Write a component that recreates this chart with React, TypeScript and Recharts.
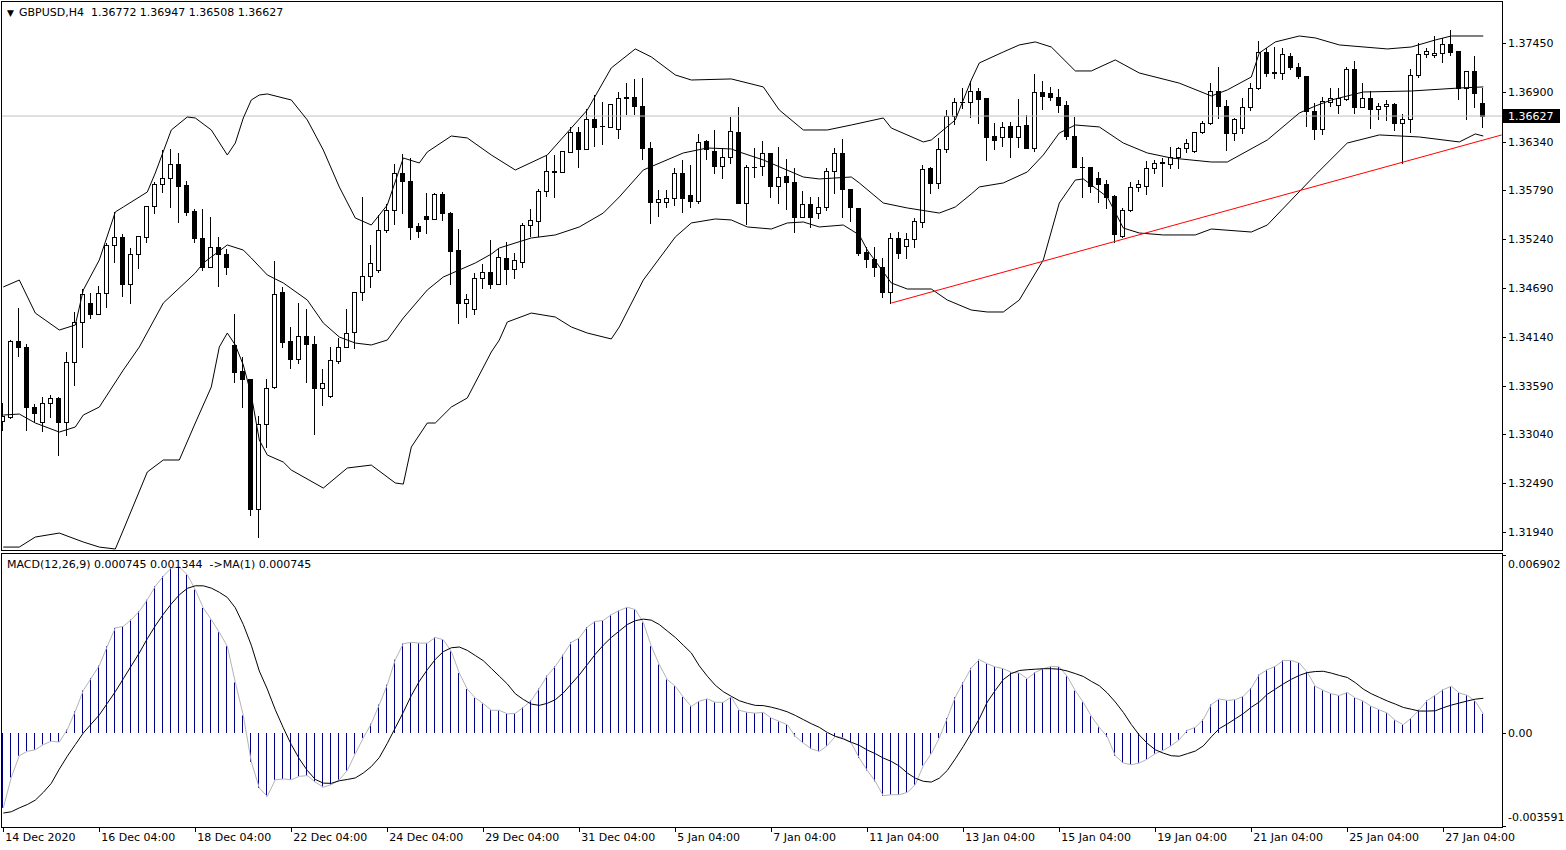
import React from "react";
import { ComposedChart, Bar, Line, XAxis, YAxis, ReferenceLine } from "recharts";

const FONT = "DejaVu Sans";

// time axis: a label every 12 H4 bars
const timeTickIdx = [0, 12, 24, 36, 48, 60, 72, 84, 96, 108, 120, 132, 144, 156, 168, 180];
const timeLabels = [
  "14 Dec 2020", "16 Dec 04:00", "18 Dec 04:00", "22 Dec 04:00", "24 Dec 04:00", "29 Dec 04:00",
  "31 Dec 04:00", "5 Jan 04:00", "7 Jan 04:00", "11 Jan 04:00", "13 Jan 04:00", "15 Jan 04:00",
  "19 Jan 04:00", "21 Jan 04:00", "25 Jan 04:00", "27 Jan 04:00",
];

const priceTicks = [1.3194, 1.3249, 1.3304, 1.3359, 1.3414, 1.3469, 1.3524, 1.3579, 1.3634, 1.369, 1.3745];
const macdTicks = [-0.003591, 0, 0.006902];
const macdTickText = ["-0.003591", "0.00", "0.006902"];

const opens = [
  1.3319, 1.33235, 1.34092, 1.34024, 1.33348, 1.33179, 1.33393, 1.3345, 1.33179, 1.33855,
  1.34306, 1.3452, 1.34396, 1.34633, 1.35174, 1.35264, 1.34734, 1.35072, 1.35264, 1.35613,
  1.35861, 1.35929, 1.36087, 1.3585, 1.35557, 1.35253, 1.34926, 1.35151, 1.35072, 1.34047,
  1.33754, 1.33664, 1.32199, 1.33157, 1.33574, 1.34644, 1.34092, 1.33889, 1.34148, 1.34058,
  1.33562, 1.33472, 1.33867, 1.34024, 1.34193, 1.34644, 1.34824, 1.34892, 1.35343, 1.35568,
  1.35985, 1.35895, 1.35388, 1.35501, 1.35467, 1.35749, 1.35534, 1.35117, 1.3452, 1.34453,
  1.34802, 1.3487, 1.34734, 1.35027, 1.34903, 1.34982, 1.35399, 1.35444, 1.35782, 1.36008,
  1.35997, 1.36222, 1.36447, 1.36256, 1.36594, 1.36515, 1.36504, 1.36481, 1.36831, 1.36842,
  1.3674, 1.36267, 1.35658, 1.35658, 1.35704, 1.35985, 1.35737, 1.3567, 1.36346, 1.36233,
  1.36064, 1.36166, 1.36447, 1.35647, 1.36053, 1.36064, 1.36211, 1.35839, 1.35951, 1.35884,
  1.35489, 1.35636, 1.35534, 1.35602, 1.36008, 1.36211, 1.35805, 1.35591, 1.35095, 1.35016,
  1.34926, 1.34644, 1.35253, 1.35163, 1.35241, 1.35433, 1.36042, 1.35873, 1.36256, 1.36628,
  1.36785, 1.36785, 1.36909, 1.36831, 1.36402, 1.36391, 1.36515, 1.36391, 1.36526, 1.36267,
  1.36898, 1.36887, 1.36842, 1.36752, 1.36402, 1.36053, 1.36053, 1.35929, 1.35861, 1.35726,
  1.35275, 1.35568, 1.35828, 1.35839, 1.36042, 1.36098, 1.36087, 1.36166, 1.36267, 1.36233,
  1.36447, 1.36549, 1.36909, 1.3674, 1.36436, 1.36492, 1.36729, 1.36943, 1.37349, 1.37124,
  1.37112, 1.37304, 1.3718, 1.37078, 1.36684, 1.36481, 1.36785, 1.36752, 1.36819, 1.37157,
  1.36729, 1.36831, 1.36707, 1.3674, 1.36763, 1.36549, 1.36594, 1.3709, 1.37326, 1.37315,
  1.37338, 1.37439, 1.3736, 1.36943, 1.37135, 1.36772,
];
const highs = [
  1.33393, 1.34103, 1.34464, 1.34058, 1.33382, 1.33461, 1.33483, 1.33461, 1.33968, 1.34419,
  1.34678, 1.34633, 1.34712, 1.35196, 1.35546, 1.35298, 1.3514, 1.35275, 1.35613, 1.35884,
  1.36244, 1.36256, 1.36211, 1.35895, 1.3558, 1.3558, 1.35489, 1.35264, 1.35129, 1.34396,
  1.33912, 1.33664, 1.33247, 1.33664, 1.34994, 1.34701, 1.3425, 1.3452, 1.34453, 1.34148,
  1.33776, 1.34024, 1.34126, 1.34453, 1.34644, 1.35715, 1.35174, 1.35512, 1.35636, 1.36087,
  1.36199, 1.36154, 1.35422, 1.3576, 1.3576, 1.35771, 1.35546, 1.35354, 1.34622, 1.34858,
  1.3496, 1.3523, 1.3514, 1.35208, 1.35084, 1.35422, 1.3558, 1.35805, 1.36188, 1.36188,
  1.36233, 1.36504, 1.36504, 1.36707, 1.36864, 1.36785, 1.36763, 1.36898, 1.37, 1.37045,
  1.37056, 1.36335, 1.35794, 1.35794, 1.36042, 1.36132, 1.36075, 1.36425, 1.36357, 1.3647,
  1.36267, 1.36616, 1.36729, 1.36075, 1.36267, 1.36346, 1.36211, 1.36278, 1.36143, 1.36042,
  1.35782, 1.35715, 1.35715, 1.36042, 1.36267, 1.36368, 1.35805, 1.35591, 1.35151, 1.35151,
  1.35027, 1.35309, 1.3532, 1.35309, 1.35478, 1.36075, 1.36053, 1.3638, 1.36695, 1.36831,
  1.36943, 1.37022, 1.36943, 1.36831, 1.36549, 1.3656, 1.3656, 1.36819, 1.36639, 1.37101,
  1.37022, 1.36955, 1.36932, 1.36797, 1.36616, 1.36166, 1.36053, 1.35997, 1.35906, 1.35737,
  1.35591, 1.35884, 1.35906, 1.36121, 1.36132, 1.36154, 1.36278, 1.36278, 1.36368, 1.36447,
  1.36571, 1.37, 1.3718, 1.36808, 1.36605, 1.36831, 1.37, 1.37473, 1.37394, 1.37405,
  1.37394, 1.37338, 1.37225, 1.37078, 1.36774, 1.36842, 1.36943, 1.36943, 1.3718, 1.37248,
  1.37, 1.36909, 1.36774, 1.36808, 1.36774, 1.3665, 1.37157, 1.3745, 1.37394, 1.37529,
  1.37507, 1.37597, 1.3736, 1.37135, 1.37304, 1.36947,
];
const lows = [
  1.33089, 1.33224, 1.33923, 1.33089, 1.3319, 1.33078, 1.33235, 1.32807, 1.33033, 1.33596,
  1.34024, 1.34351, 1.34396, 1.34475, 1.34982, 1.34599, 1.3452, 1.34915, 1.35208, 1.35534,
  1.35771, 1.35602, 1.35433, 1.35512, 1.35208, 1.34892, 1.34926, 1.34712, 1.34847, 1.3363,
  1.33348, 1.32131, 1.31883, 1.32897, 1.33562, 1.34024, 1.33788, 1.33844, 1.3363, 1.33044,
  1.33371, 1.33461, 1.33844, 1.34024, 1.34013, 1.34554, 1.34701, 1.3487, 1.3532, 1.35411,
  1.35534, 1.35241, 1.35264, 1.35309, 1.35467, 1.35456, 1.34734, 1.34295, 1.34362, 1.34396,
  1.34689, 1.34689, 1.34734, 1.34734, 1.34802, 1.34926, 1.35275, 1.35275, 1.35726, 1.35715,
  1.35997, 1.36222, 1.36053, 1.36256, 1.3629, 1.36312, 1.36504, 1.3638, 1.3665, 1.3665,
  1.36143, 1.35422, 1.35501, 1.35602, 1.35625, 1.35546, 1.35602, 1.35647, 1.36143, 1.35985,
  1.35929, 1.36098, 1.35647, 1.35411, 1.3594, 1.35963, 1.35715, 1.35647, 1.3558, 1.3532,
  1.35489, 1.35377, 1.35478, 1.35568, 1.3576, 1.35489, 1.35444, 1.35061, 1.34926, 1.34824,
  1.34588, 1.3452, 1.35027, 1.35027, 1.35151, 1.35377, 1.3576, 1.35816, 1.36222, 1.36538,
  1.36718, 1.36616, 1.36549, 1.36132, 1.36256, 1.3629, 1.36166, 1.36278, 1.36267, 1.36233,
  1.36707, 1.36808, 1.36673, 1.36368, 1.36053, 1.35715, 1.35771, 1.35658, 1.35591, 1.35208,
  1.35264, 1.35557, 1.35782, 1.35749, 1.35985, 1.35839, 1.36042, 1.36042, 1.36222, 1.36222,
  1.36436, 1.36538, 1.36605, 1.36244, 1.36357, 1.36436, 1.36695, 1.36932, 1.37078, 1.37056,
  1.37045, 1.37157, 1.37056, 1.36515, 1.36368, 1.36425, 1.3674, 1.36661, 1.36808, 1.36661,
  1.36729, 1.36492, 1.36594, 1.36583, 1.3647, 1.36098, 1.36447, 1.37067, 1.37293, 1.37293,
  1.37236, 1.37315, 1.36819, 1.36594, 1.36729, 1.36508,
];
const closes = [
  1.33247, 1.34092, 1.34024, 1.33348, 1.3328, 1.33393, 1.3345, 1.33179, 1.33855, 1.34306,
  1.34622, 1.34396, 1.34633, 1.35174, 1.35264, 1.34734, 1.35072, 1.35275, 1.35613, 1.35861,
  1.35929, 1.36087, 1.35839, 1.35546, 1.35253, 1.34926, 1.35151, 1.35072, 1.34926, 1.33743,
  1.33664, 1.32199, 1.33157, 1.33562, 1.34622, 1.34081, 1.33889, 1.34148, 1.34058, 1.33562,
  1.33619, 1.33878, 1.34024, 1.34182, 1.34644, 1.34824, 1.34971, 1.35343, 1.35568, 1.35985,
  1.35895, 1.35377, 1.35332, 1.35467, 1.35749, 1.35534, 1.35106, 1.3452, 1.34565, 1.34802,
  1.3487, 1.34734, 1.35039, 1.34903, 1.35005, 1.35399, 1.35456, 1.35782, 1.36008, 1.35997,
  1.36233, 1.36447, 1.36256, 1.36594, 1.36504, 1.3651, 1.36763, 1.36831, 1.36836, 1.3674,
  1.36267, 1.35658, 1.35692, 1.35704, 1.35985, 1.35704, 1.3567, 1.36335, 1.36256, 1.36064,
  1.36166, 1.36459, 1.35647, 1.36053, 1.36048, 1.36211, 1.35839, 1.3594, 1.35884, 1.35489,
  1.35636, 1.35489, 1.35602, 1.36008, 1.36211, 1.35805, 1.35602, 1.35084, 1.35016, 1.34926,
  1.34644, 1.35253, 1.35084, 1.35241, 1.35444, 1.3603, 1.35873, 1.36256, 1.36628, 1.36785,
  1.3678, 1.36909, 1.36819, 1.36391, 1.36357, 1.36504, 1.36391, 1.36515, 1.36267, 1.36898,
  1.36853, 1.36842, 1.36752, 1.36402, 1.36053, 1.36048, 1.35839, 1.35861, 1.35715, 1.35298,
  1.35568, 1.35828, 1.35861, 1.36042, 1.36098, 1.36104, 1.36166, 1.36267, 1.36323, 1.36447,
  1.36549, 1.36909, 1.3674, 1.36436, 1.36594, 1.36729, 1.36943, 1.37349, 1.37112, 1.37112,
  1.37326, 1.3718, 1.37078, 1.36684, 1.36481, 1.36797, 1.36831, 1.36831, 1.37157, 1.36729,
  1.36831, 1.36707, 1.3674, 1.36763, 1.36549, 1.36594, 1.3709, 1.37326, 1.3736, 1.37338,
  1.37439, 1.37349, 1.36943, 1.37135, 1.36887, 1.36627,
];

// Bollinger bands (20, 2) as [bar, price]
const bbUpper: [number, number][] = [
  [0, 1.34701], [2, 1.34779], [4, 1.34407], [7, 1.34216], [9, 1.34272], [10, 1.34667], [12, 1.35005],
  [14, 1.35546], [15, 1.35602], [18, 1.35771], [19, 1.35985], [21, 1.3647], [23, 1.36616], [24, 1.36605],
  [26, 1.3647], [28, 1.36188], [29, 1.36323], [30, 1.36605], [31, 1.36808], [32, 1.36864], [33, 1.36876],
  [36, 1.36808], [38, 1.36583], [40, 1.36244], [42, 1.35828], [44, 1.35478], [46, 1.35399], [48, 1.35625],
  [50, 1.36154], [52, 1.36098], [53, 1.36222], [56, 1.36402], [58, 1.3638], [61, 1.36188], [64, 1.36019],
  [68, 1.36188], [73, 1.36695], [76, 1.37169], [79, 1.37383], [81, 1.37293], [84, 1.3709], [86, 1.37033],
  [91, 1.37045], [95, 1.36955], [97, 1.36695], [100, 1.3647], [103, 1.3647], [106, 1.36526], [110, 1.36605],
  [111, 1.36492], [115, 1.36335], [116, 1.36357], [119, 1.36583], [121, 1.37033], [122, 1.37225],
  [125, 1.37349], [127, 1.37428], [129, 1.37462], [131, 1.37405], [134, 1.37135], [136, 1.37135],
  [139, 1.37259], [142, 1.37112], [147, 1.36998], [151, 1.36853], [153, 1.36921], [156, 1.37067],
  [157, 1.37338], [159, 1.37462], [162, 1.37529], [164, 1.37507], [167, 1.37428], [173, 1.37383],
  [176, 1.37405], [179, 1.37484], [181, 1.37529], [185, 1.37529],
];
const bbMiddle: [number, number][] = [
  [0, 1.33258], [2, 1.33269], [4, 1.33168], [7, 1.33066], [9, 1.33123], [10, 1.33258], [12, 1.33348],
  [15, 1.33765], [17, 1.34024], [20, 1.3452], [24, 1.34858], [25, 1.34971], [28, 1.35174], [30, 1.35117],
  [31, 1.35027], [33, 1.34836], [35, 1.34746], [38, 1.34554], [40, 1.34295], [42, 1.34137], [44, 1.34069],
  [46, 1.34047], [48, 1.34103], [50, 1.34351], [53, 1.34667], [55, 1.34813], [59, 1.34971], [61, 1.35072],
  [62, 1.3514], [66, 1.35253], [69, 1.35287], [72, 1.35377], [75, 1.35534], [77, 1.35715], [80, 1.36019],
  [85, 1.36211], [88, 1.36267], [91, 1.36256], [92, 1.36222], [95, 1.36132], [100, 1.3594], [102, 1.35918],
  [106, 1.3594], [107, 1.35873], [110, 1.35647], [113, 1.35591], [117, 1.35534], [119, 1.35602],
  [121, 1.35749], [122, 1.35828], [125, 1.35873], [128, 1.35997], [130, 1.36188], [132, 1.36436],
  [134, 1.36526], [137, 1.36504], [140, 1.36323], [143, 1.36211], [146, 1.36154], [151, 1.36109],
  [153, 1.36109], [158, 1.36357], [162, 1.36661], [164, 1.3674], [166, 1.36808], [170, 1.36898],
  [176, 1.36909], [182, 1.36943], [185, 1.36955],
];
const bbLower: [number, number][] = [
  [0, 1.3177], [2, 1.3177], [4, 1.31883], [7, 1.31928], [10, 1.31827], [12, 1.3177], [14, 1.31748],
  [15, 1.31962], [18, 1.32616], [20, 1.32751], [22, 1.32751], [24, 1.33168], [26, 1.33574], [27, 1.34024],
  [28, 1.34182], [29, 1.34047], [30, 1.33822], [31, 1.33483], [32, 1.32976], [33, 1.32807], [35, 1.32728],
  [36, 1.32638], [40, 1.32435], [43, 1.32661], [46, 1.32694], [49, 1.32492], [50, 1.3248], [51, 1.32897],
  [53, 1.33168], [54, 1.33168], [56, 1.33348], [58, 1.3345], [61, 1.33968], [62, 1.34103], [63, 1.34306],
  [66, 1.34407], [69, 1.34362], [71, 1.3425], [73, 1.34182], [76, 1.34115], [77, 1.3425], [80, 1.34779],
  [84, 1.35264], [86, 1.35422], [89, 1.35467], [91, 1.35456], [93, 1.35377], [96, 1.35354], [98, 1.35422],
  [100, 1.35433], [102, 1.35377], [105, 1.35399], [107, 1.35287], [108, 1.35117], [111, 1.34746],
  [113, 1.34678], [116, 1.34678], [118, 1.34554], [121, 1.34441], [123, 1.34419], [125, 1.34419],
  [127, 1.34554], [130, 1.35005], [132, 1.35647], [134, 1.35906], [135, 1.35918], [138, 1.35715],
  [140, 1.35365], [142, 1.35309], [145, 1.35287], [149, 1.35287], [151, 1.35354], [156, 1.3532],
  [158, 1.35399], [161, 1.35681], [164, 1.35963], [168, 1.36323], [172, 1.36414], [177, 1.36391],
  [182, 1.36335], [184, 1.36425], [185, 1.36402],
];

const macdMain = [
  -0.0029, -0.00172, -0.00088, -0.00071, -0.00065, -0.00045, -0.00032, -0.00035, 0.00013, 0.00084,
  0.00165, 0.00213, 0.00261, 0.00336, 0.00407, 0.00413, 0.00439, 0.00471, 0.00516, 0.00568,
  0.00607, 0.00639, 0.00643, 0.00613, 0.00555, 0.00484, 0.00439, 0.0039, 0.00336, 0.00196,
  0.00068, -0.00112, -0.00213, -0.00245, -0.00181, -0.00178, -0.00181, -0.00168, -0.00165, -0.0019,
  -0.0021, -0.002, -0.00181, -0.00145, -0.0008, -0.00019, 0.00036, 0.0011, 0.00187, 0.00284,
  0.00346, 0.00351, 0.00348, 0.00348, 0.0037, 0.00361, 0.00316, 0.00232, 0.0017, 0.00136,
  0.00114, 0.00088, 0.00088, 0.00074, 0.00076, 0.00099, 0.00126, 0.00172, 0.00222, 0.00258,
  0.00303, 0.00351, 0.00368, 0.0041, 0.00432, 0.00436, 0.00458, 0.00474, 0.00487, 0.00478,
  0.00428, 0.00336, 0.00265, 0.00207, 0.00181, 0.00139, 0.00103, 0.00123, 0.00132, 0.00119,
  0.00119, 0.00139, 0.00088, 0.0008, 0.00077, 0.0008, 0.00058, 0.00045, 0.00032, -0.00013,
  -0.00039, -0.00061, -0.00071, -0.00049, -0.00013, -0.00019, -0.00039, -0.00097, -0.00145, -0.00187,
  -0.00243, -0.00239, -0.00239, -0.0023, -0.002, -0.00126, -0.0008, -0.00019, 0.00058, 0.00139,
  0.00196, 0.00252, 0.00284, 0.00268, 0.00256, 0.00249, 0.00235, 0.00232, 0.0021, 0.00235,
  0.00249, 0.00258, 0.00256, 0.00219, 0.00164, 0.00119, 0.00065, 0.00022, -0.00015, -0.00088,
  -0.00116, -0.00123, -0.00116, -0.00101, -0.0008, -0.00067, -0.00049, -0.00026, 0.0001, 0.00022,
  0.00052, 0.0011, 0.00132, 0.00126, 0.00129, 0.00142, 0.00174, 0.00226, 0.00245, 0.00258,
  0.00281, 0.00281, 0.00271, 0.00235, 0.00181, 0.00165, 0.00152, 0.00145, 0.00157, 0.00136,
  0.00123, 0.00103, 0.0009, 0.00077, 0.00049, 0.00032, 0.00058, 0.0009, 0.00126, 0.00146,
  0.00168, 0.00181, 0.00155, 0.00146, 0.00123, 0.000745,
];
const macdSignal = [
  -0.0031, -0.00305, -0.0029, -0.00277, -0.0026, -0.0023, -0.00195, -0.0014, -0.0009, -0.00045,
  0.0, 0.00035, 0.0007, 0.00115, 0.0016, 0.0021, 0.0026, 0.0031, 0.00365, 0.00415,
  0.0046, 0.005, 0.00535, 0.0056, 0.0057, 0.0057, 0.00561, 0.00545, 0.00525, 0.00485,
  0.0042, 0.0034, 0.0024, 0.0017, 0.0009, 0.0002, -0.00045, -0.001, -0.00145, -0.0018,
  -0.00194, -0.00195, -0.00185, -0.0018, -0.00174, -0.00155, -0.0013, -0.00095, -0.0004, 0.0002,
  0.0008, 0.00145, 0.002, 0.00245, 0.00285, 0.00315, 0.0033, 0.00333, 0.0032, 0.003,
  0.0028, 0.0025, 0.0022, 0.0019, 0.00152, 0.0013, 0.00112, 0.00107, 0.00115, 0.00129,
  0.00155, 0.0019, 0.00225, 0.00265, 0.00305, 0.0034, 0.0037, 0.00395, 0.0042, 0.00435,
  0.00441, 0.00437, 0.0042, 0.00395, 0.0037, 0.0034, 0.0031, 0.0026, 0.0022, 0.00185,
  0.0016, 0.00142, 0.00125, 0.00115, 0.00107, 0.00106, 0.001, 0.00092, 0.00082, 0.00068,
  0.00052, 0.00036, 0.00022, 0.00002, -0.00013, -0.00023, -0.00036, -0.00048, -0.00066, -0.0008,
  -0.00097, -0.0011, -0.00128, -0.00155, -0.00175, -0.00187, -0.0019, -0.00175, -0.00145, -0.001,
  -0.00052, 0.0, 0.00055, 0.0012, 0.00165, 0.00207, 0.0023, 0.00242, 0.00245, 0.00247,
  0.00249, 0.00249, 0.00247, 0.0024, 0.0023, 0.00219, 0.002, 0.00183, 0.00155, 0.0012,
  0.0008, 0.00033, -0.00008, -0.0004, -0.00065, -0.00078, -0.00088, -0.0009, -0.0008, -0.0007,
  -0.0005, -0.00015, 0.00017, 0.00035, 0.00055, 0.00075, 0.001, 0.0012, 0.0015, 0.0017,
  0.0019, 0.00208, 0.00223, 0.00234, 0.00238, 0.00239, 0.00232, 0.00223, 0.00215, 0.00195,
  0.0017, 0.00152, 0.00138, 0.00124, 0.00112, 0.00099, 0.00092, 0.00085, 0.00085, 0.00086,
  0.00098, 0.00108, 0.00116, 0.00124, 0.00131, 0.001344,
];

// hand-drawn support line
const trendStart = { i: 111, price: 1.3452 };
const trendEnd = { i: 187.3, price: 1.36414 };

const lastClose = closes[closes.length - 1];

const candles = opens.map((o, i) => ({
  i,
  o,
  h: highs[i],
  l: lows[i],
  c: closes[i],
  range: [lows[i], highs[i]],
}));
const macdData = macdMain.map((m, i) => ({ i, m, s: macdSignal[i] }));
const toPts = (arr: [number, number][]) => arr.map(([i, v]) => ({ i, v }));

const X_DOMAIN: [number, number] = [-0.1625, 187.3375];
const PRICE_DOMAIN: [number, number] = [1.31737, 1.37912];
const MACD_DOMAIN: [number, number] = [-0.00364, 0.00697];

function Candle(props: any) {
  const { x, y, width, height, payload } = props;
  if (!payload || x == null || y == null) return null;
  const cx = Math.floor(x + width / 2) + 0.5;
  const yHi = Math.min(y, y + height);
  const yLo = Math.max(y, y + height);
  const span = payload.h - payload.l;
  const k = span > 0 ? (yLo - yHi) / span : 0;
  const top = Math.round(yHi + (payload.h - Math.max(payload.o, payload.c)) * k);
  const bot = Math.round(yHi + (payload.h - Math.min(payload.o, payload.c)) * k);
  const bull = payload.c >= payload.o;
  return (
    <g>
      <line x1={cx} x2={cx} y1={Math.round(yHi)} y2={Math.round(yLo) + 1} stroke="#000" strokeWidth={1} />
      {bot - top < 1 ? (
        <line x1={cx - 2.5} x2={cx + 2.5} y1={top + 0.5} y2={top + 0.5} stroke="#000" strokeWidth={1} />
      ) : (
        <rect x={cx - 2} y={top + 0.5} width={4} height={bot - top} fill={bull ? "#fff" : "#000"} stroke="#000" strokeWidth={1} />
      )}
    </g>
  );
}

function HistLine(props: any) {
  const { x, y, width, height } = props;
  if (x == null || y == null) return null;
  const cx = Math.floor(x + width / 2) + 0.5;
  const y1 = Math.min(y, y + height);
  const y2 = Math.max(y, y + height);
  return <line x1={cx} x2={cx} y1={y1} y2={y2} stroke="#000080" strokeWidth={1} />;
}

function PriceTick(props: any) {
  const { x, y, payload } = props;
  const yy = Math.round(y) + 0.5;
  return (
    <g>
      <line x1={x} x2={x + 4} y1={yy} y2={yy} stroke="#000" />
      <text x={x + 6} y={y + 4} fontSize={11} fontFamily={FONT} fill="#000">
        {Number(payload.value).toFixed(5)}
      </text>
    </g>
  );
}

function MacdTick(props: any) {
  const { x, y, payload } = props;
  const idx = macdTicks.indexOf(payload.value);
  const shift = idx === 2 ? 9 : idx === 0 ? -9 : 0;
  const yy = Math.round(y) + 0.5;
  return (
    <g>
      <line x1={x} x2={x + 4} y1={yy} y2={yy} stroke="#000" />
      <text x={x + 6} y={y + 4 + shift} fontSize={11} fontFamily={FONT} fill="#000">
        {macdTickText[idx]}
      </text>
    </g>
  );
}

function TimeTick(props: any) {
  const { x, y, payload } = props;
  const idx = timeTickIdx.indexOf(payload.value);
  const xx = Math.floor(x) + 0.5;
  return (
    <g>
      <line x1={xx} x2={xx} y1={y} y2={y + 5} stroke="#000" />
      <text x={x + 2} y={y + 14} fontSize={11} fontFamily={FONT} fill="#000">
        {timeLabels[idx]}
      </text>
    </g>
  );
}

function PriceBox(props: any) {
  const vb = props.viewBox;
  if (!vb) return null;
  const x0 = vb.x + vb.width + 1;
  return (
    <g>
      <rect x={x0} y={Math.round(vb.y) - 7} width={57} height={14} fill="#000" />
      <text x={x0 + 5} y={vb.y + 4} fontSize={11} fontFamily={FONT} fill="#fff">
        {lastClose.toFixed(5)}
      </text>
    </g>
  );
}

export default function App() {
  return (
    <div style={{ position: "fixed", left: 0, top: 0, width: 1566, height: 850, background: "#fff", overflow: "hidden" }}>
      <div style={{ position: "absolute", left: 0, top: 0 }}>
        <ComposedChart width={1566} height={552} data={candles} margin={{ top: 2, right: 0, bottom: 2, left: 2 }}>
          <XAxis type="number" dataKey="i" domain={X_DOMAIN} allowDataOverflow hide />
          <YAxis
            orientation="right"
            width={64}
            domain={PRICE_DOMAIN}
            allowDataOverflow
            ticks={priceTicks}
            interval={0}
            axisLine={false}
            tickLine={false}
            tickSize={0}
            tickMargin={0}
            tick={<PriceTick />}
          />
          <ReferenceLine y={lastClose} stroke="#c0c0c0" label={(p: any) => <PriceBox {...p} />} />
          <Bar dataKey="range" barSize={5} isAnimationActive={false} shape={(p: any) => <Candle {...p} />} />
          <Line data={toPts(bbUpper)} dataKey="v" type="linear" stroke="#000" strokeWidth={1} dot={false} isAnimationActive={false} />
          <Line data={toPts(bbMiddle)} dataKey="v" type="linear" stroke="#000" strokeWidth={1} dot={false} isAnimationActive={false} />
          <Line data={toPts(bbLower)} dataKey="v" type="linear" stroke="#000" strokeWidth={1} dot={false} isAnimationActive={false} />
          <ReferenceLine
            segment={[
              { x: trendStart.i, y: trendStart.price },
              { x: trendEnd.i, y: trendEnd.price },
            ]}
            stroke="#ff0000"
            strokeWidth={1}
            ifOverflow="visible"
          />
        </ComposedChart>
      </div>
      <div style={{ position: "absolute", left: 0, top: 553 }}>
        <ComposedChart width={1566} height={297} data={macdData} margin={{ top: 0, right: 0, bottom: 0, left: 2 }}>
          <XAxis
            type="number"
            dataKey="i"
            domain={X_DOMAIN}
            allowDataOverflow
            ticks={timeTickIdx}
            interval={0}
            height={23}
            axisLine={false}
            tickLine={false}
            tickSize={0}
            tickMargin={0}
            tick={<TimeTick />}
          />
          <YAxis
            orientation="right"
            width={64}
            domain={MACD_DOMAIN}
            allowDataOverflow
            ticks={macdTicks}
            interval={0}
            axisLine={false}
            tickLine={false}
            tickSize={0}
            tickMargin={0}
            tick={<MacdTick />}
          />
          <Bar dataKey="m" barSize={1} isAnimationActive={false} shape={(p: any) => <HistLine {...p} />} />
          <Line dataKey="m" type="linear" stroke="#b4b4b4" strokeWidth={1} dot={false} isAnimationActive={false} />
          <Line dataKey="s" type="linear" stroke="#000" strokeWidth={1} dot={false} isAnimationActive={false} />
        </ComposedChart>
      </div>
      <div style={{ position: "absolute", left: 1, top: 1, width: 1502, height: 550, boxSizing: "border-box", border: "1px solid #000", pointerEvents: "none" }} />
      <div style={{ position: "absolute", left: 1, top: 553, width: 1502, height: 275, boxSizing: "border-box", border: "1px solid #000", pointerEvents: "none" }} />
      <div style={{ position: "absolute", left: 7, top: 6, fontFamily: FONT, fontSize: 11, lineHeight: "13px", color: "#000", whiteSpace: "pre" }}>
        <span style={{ fontSize: 9 }}>▼</span>
        <span style={{ marginLeft: 5 }}>GBPUSD,H4  1.36772 1.36947 1.36508 1.36627</span>
      </div>
      <div style={{ position: "absolute", left: 7, top: 558, fontFamily: FONT, fontSize: 11, lineHeight: "13px", color: "#000", whiteSpace: "pre" }}>
        MACD(12,26,9) 0.000745 0.001344  -&gt;MA(1) 0.000745
      </div>
    </div>
  );
}
